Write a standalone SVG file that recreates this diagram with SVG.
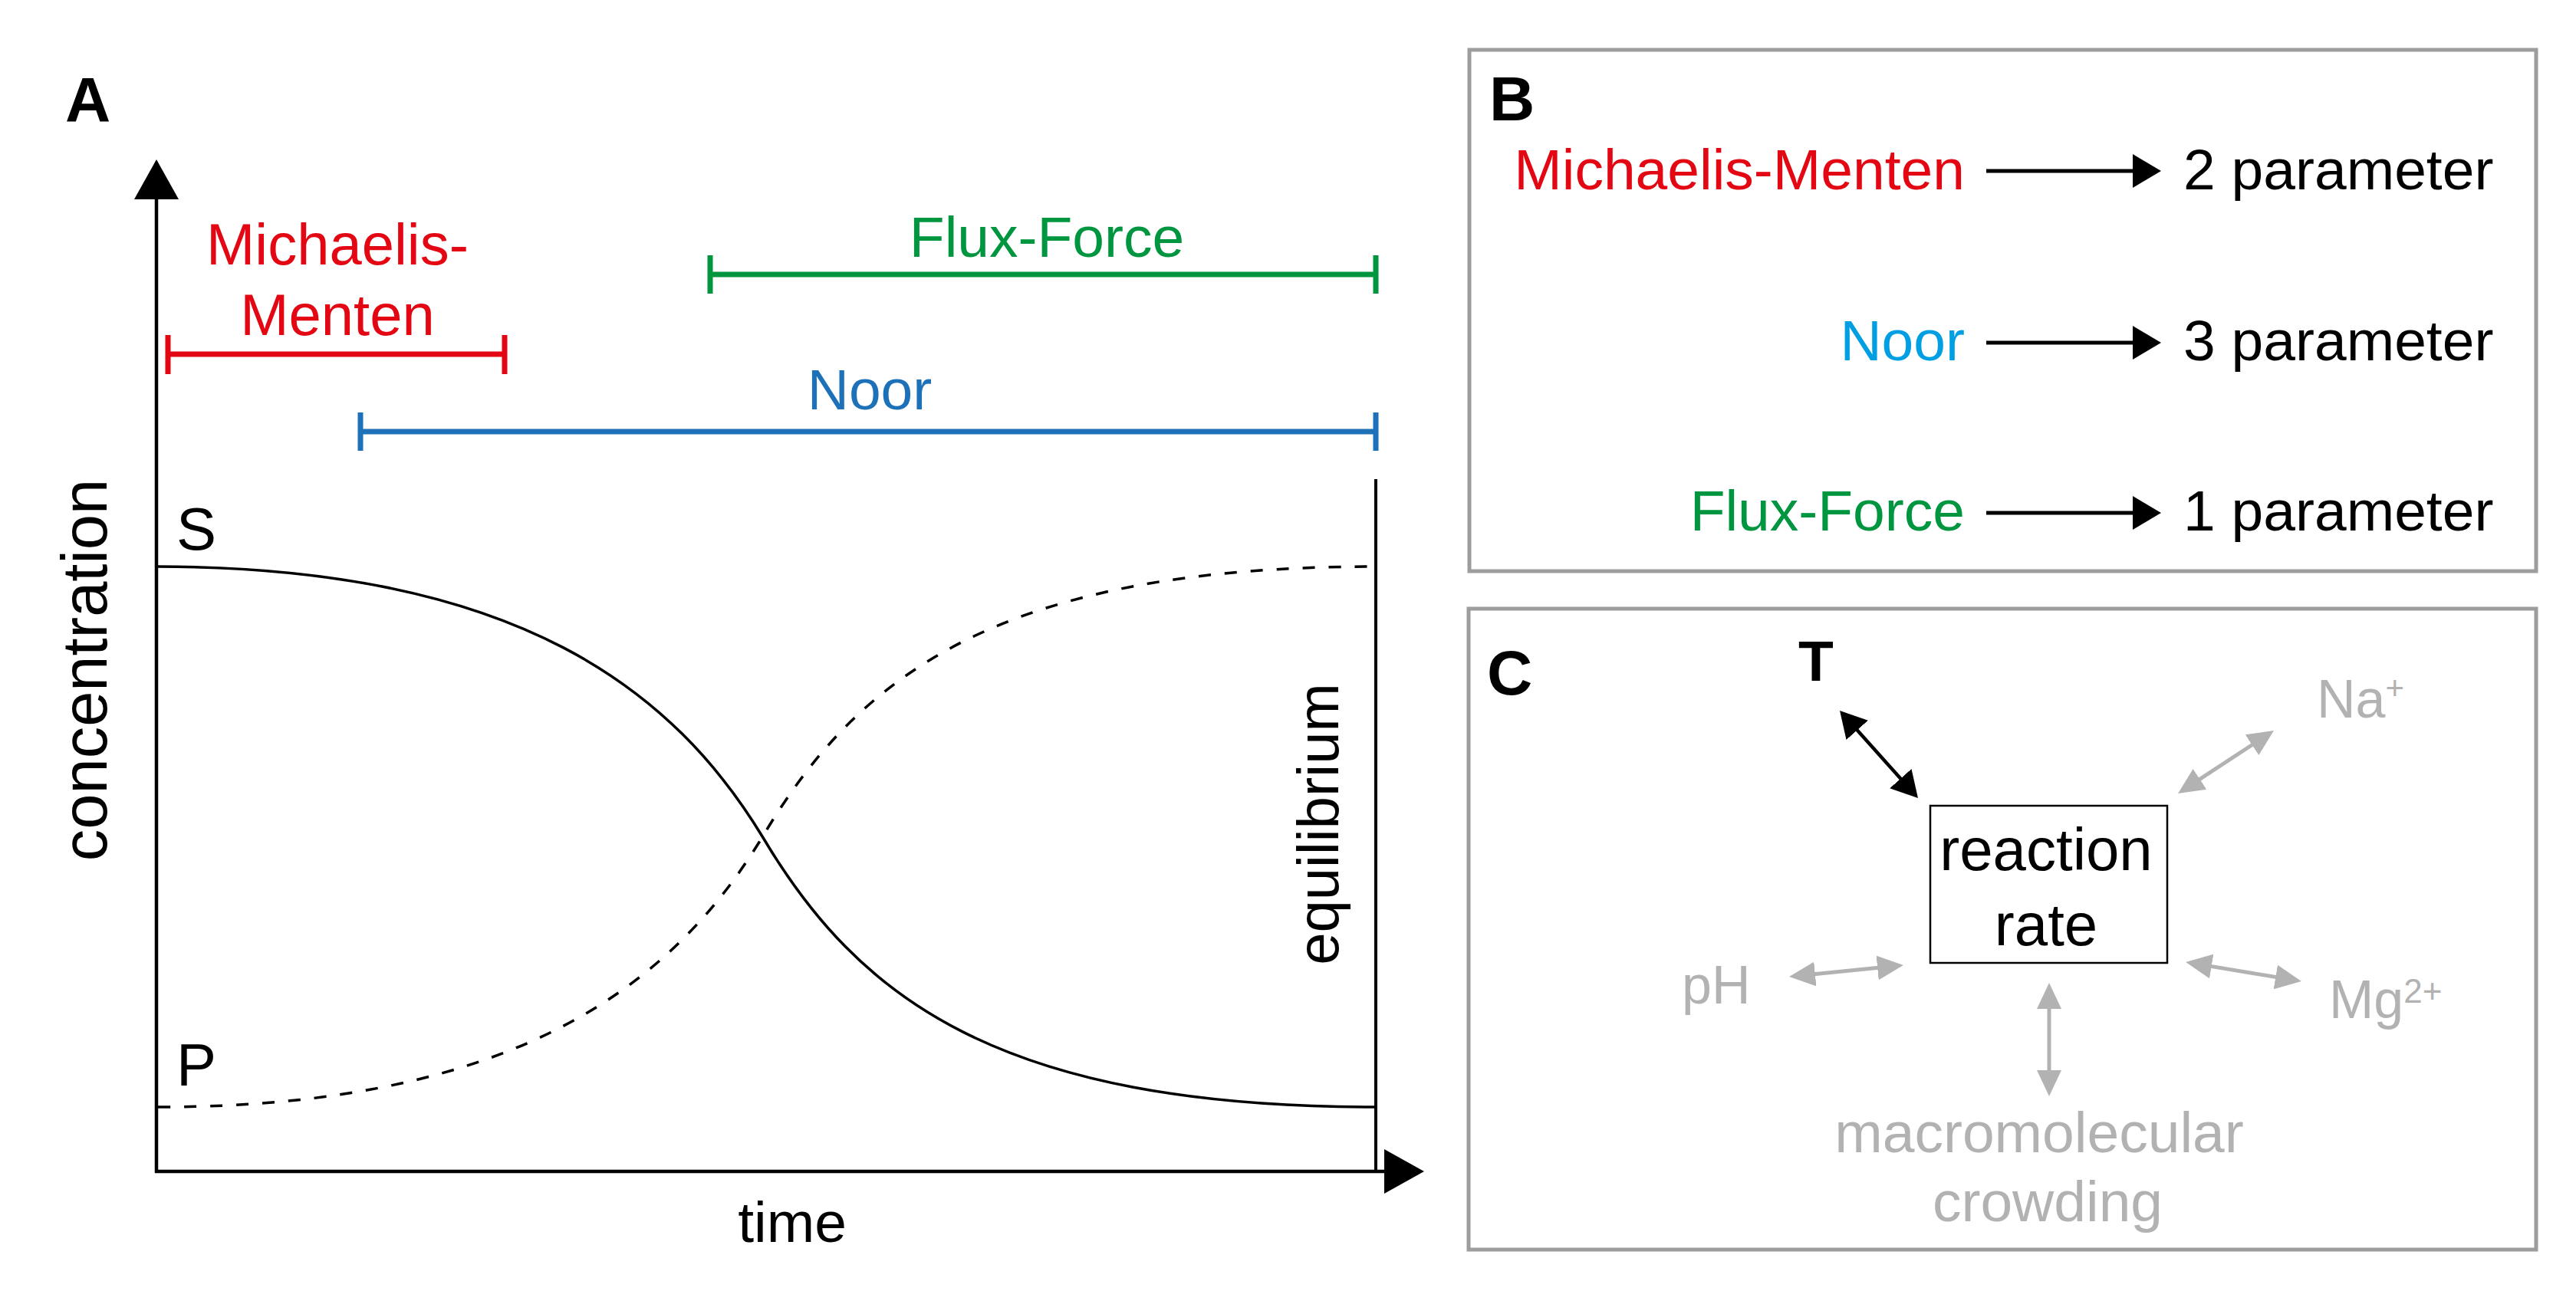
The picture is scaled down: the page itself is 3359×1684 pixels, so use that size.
<svg xmlns="http://www.w3.org/2000/svg" width="3359" height="1684" viewBox="0 0 3359 1684">
<style>
text{font-family:"Liberation Sans",Arial,sans-serif;}
.lbl{font-weight:bold;font-size:82px;fill:#000;}
.t75{font-size:75px;}
.red{fill:#e30613;}
.grn{fill:#009640;}
.blu{fill:#1d71b8;}
.cyan{fill:#009fe3;}
.gray{fill:#b2b2b2;}
.bar{fill:none;stroke-width:7;}
.panel{fill:#fff;stroke:#9d9d9d;stroke-width:5;}
.axis{stroke:#000;stroke-width:4.5;fill:none;}
.conB{stroke:#000;stroke-width:5;}
.conT{stroke:#000;stroke-width:4.5;}
.conG{stroke:#b2b2b2;stroke-width:5;}
</style>
<defs>
<marker id="hB" viewBox="0 0 37 44" refX="27" refY="22" markerWidth="37" markerHeight="44" markerUnits="userSpaceOnUse" orient="auto"><path d="M0,0 L37,22 L0,44 z" fill="#000"/></marker>
<marker id="hT" viewBox="0 0 34 38" refX="24" refY="19" markerWidth="34" markerHeight="38" markerUnits="userSpaceOnUse" orient="auto-start-reverse"><path d="M0,0 L34,19 L0,38 z" fill="#000"/></marker>
<marker id="hG" viewBox="0 0 34 32" refX="24" refY="16" markerWidth="34" markerHeight="32" markerUnits="userSpaceOnUse" orient="auto-start-reverse"><path d="M0,0 L34,16 L0,32 z" fill="#b2b2b2"/></marker>
</defs>
<rect width="3359" height="1684" fill="#fff"/>

<!-- Panel A -->
<g id="panelA">
  <text class="lbl" x="85" y="158">A</text>
  <g id="axes">
    <line class="axis" x1="204" y1="1530" x2="204" y2="255"/>
    <polygon points="204,208 233,260 175,260" fill="#000"/>
    <line class="axis" x1="202" y1="1528" x2="1810" y2="1528"/>
    <polygon points="1857,1528 1805,1499 1805,1557" fill="#000"/>
    <text class="t75" x="1033" y="1620" text-anchor="middle" font-size="75">time</text>
    <text transform="translate(139,874) rotate(-90)" text-anchor="middle" font-size="83">concentration</text>
  </g>
  <g id="equilibrium">
    <line x1="1794" y1="625" x2="1794" y2="1528" stroke="#000" stroke-width="4"/>
    <text transform="translate(1745,1075) rotate(-90)" text-anchor="middle" font-size="76">equilibrium</text>
  </g>
  <g id="curveS">
    <path d="M204,739 C680,739 880,904 994,1091 C1118,1300 1300,1444 1794,1444" fill="none" stroke="#000" stroke-width="3.5"/>
    <text x="230" y="717" font-size="78">S</text>
  </g>
  <g id="curveP">
    <path d="M206,1444 C680,1444 880,1279 994,1092 C1118,883 1300,739 1794,739" fill="none" stroke="#000" stroke-width="3.5" stroke-dasharray="16 18"/>
    <text x="230" y="1416" font-size="78">P</text>
  </g>
  <g id="rangeMM">
    <path class="bar" stroke="#e30613" d="M219,462 H658 M219,437 V488 M658,437 V488"/>
    <text class="red" x="440" y="345" text-anchor="middle" font-size="76">Michaelis-</text>
    <text class="red" x="440" y="437" text-anchor="middle" font-size="76">Menten</text>
  </g>
  <g id="rangeFF">
    <path class="bar" stroke="#009640" d="M926,358 H1794 M926,333 V383 M1794,333 V383"/>
    <text class="grn" x="1365" y="335" text-anchor="middle" font-size="75">Flux-Force</text>
  </g>
  <g id="rangeNoor">
    <path class="bar" stroke="#1d71b8" d="M470,563 H1794 M470,538 V588 M1794,538 V588"/>
    <text class="blu" x="1134" y="534" text-anchor="middle" font-size="75">Noor</text>
  </g>
</g>

<!-- Panel B -->
<g id="panelB">
  <rect class="panel" x="1916" y="65" width="1391" height="680"/>
  <text class="lbl" x="1942" y="157">B</text>
  <g id="bMM"><text class="red" x="2562" y="247" text-anchor="end" font-size="75">Michaelis-Menten</text></g>
  <g id="bNoor"><text class="cyan" x="2562" y="470" text-anchor="end" font-size="75">Noor</text></g>
  <g id="bFF"><text class="grn" x="2562" y="692" text-anchor="end" font-size="75">Flux-Force</text></g>
  <g id="b2"><text x="2847" y="247" font-size="75">2 parameter</text></g>
  <g id="b3"><text x="2847" y="470" font-size="75">3 parameter</text></g>
  <g id="b1"><text x="2847" y="692" font-size="75">1 parameter</text></g>
</g>

<!-- Panel C -->
<g id="panelC">
  <rect class="panel" x="1915" y="794" width="1392" height="836"/>
  <text class="lbl" x="1939" y="906">C</text>
  <g id="nodeRate">
    <rect x="2517" y="1051" width="309" height="205" fill="#fff" stroke="#000" stroke-width="2.5"/>
    <text x="2668" y="1135" text-anchor="middle" font-size="78">reaction</text>
    <text x="2668" y="1233" text-anchor="middle" font-size="78">rate</text>
  </g>
  <g id="nodeT"><text x="2368" y="888" text-anchor="middle" font-size="75" font-weight="bold">T</text></g>
  <g id="nodeNa"><text class="gray" x="3021" y="936" font-size="70">Na<tspan font-size="42" dy="-24">+</tspan></text></g>
  <g id="nodePH"><text class="gray" x="2193" y="1309" font-size="70">pH</text></g>
  <g id="nodeMg"><text class="gray" x="3037" y="1328" font-size="70">Mg<tspan font-size="44" dy="-20">2+</tspan></text></g>
  <g id="nodeCrowd">
    <text class="gray" x="2659" y="1503" text-anchor="middle" font-size="75">macromolecular</text>
    <text class="gray" x="2670" y="1593" text-anchor="middle" font-size="75">crowding</text>
  </g>
</g>

<!-- Connectors -->
<g id="connectors">
  <line class="conB" x1="2590" y1="223" x2="2808" y2="223" marker-end="url(#hB)"/>
  <line class="conB" x1="2590" y1="447" x2="2808" y2="447" marker-end="url(#hB)"/>
  <line class="conB" x1="2590" y1="669" x2="2808" y2="669" marker-end="url(#hB)"/>
  <line class="conT" x1="2405.7" y1="934.5" x2="2494.3" y2="1033.5" marker-start="url(#hT)" marker-end="url(#hT)"/>
  <line class="conG" x1="2956.6" y1="958.5" x2="2848.4" y2="1029.5" marker-start="url(#hG)" marker-end="url(#hG)"/>
  <line class="conG" x1="2343" y1="1273" x2="2472" y2="1260" marker-start="url(#hG)" marker-end="url(#hG)"/>
  <line class="conG" x1="2860" y1="1256.6" x2="2991" y2="1278.4" marker-start="url(#hG)" marker-end="url(#hG)"/>
  <line class="conG" x1="2672" y1="1292" x2="2672" y2="1420" marker-start="url(#hG)" marker-end="url(#hG)"/>
</g>
</svg>
